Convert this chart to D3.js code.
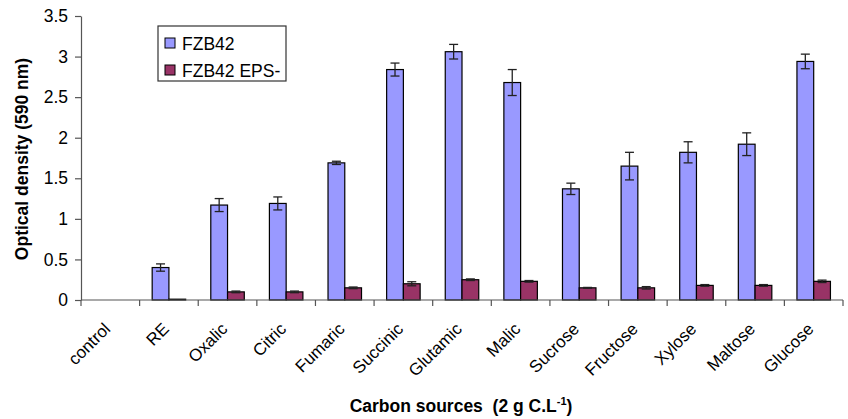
<!DOCTYPE html>
<html>
<head>
<meta charset="utf-8">
<script src="https://cdn.jsdelivr.net/npm/d3@7"></script>
<style>
  html, body { margin: 0; padding: 0; background: #fff; }
  svg { display: block; font-family: "Liberation Sans", Arial, sans-serif; }
</style>
</head>
<body>
<svg id="chart" width="848" height="419"></svg>
<script>
// Carbon sources tested
const categories = ["control", "RE", "Oxalic", "Citric", "Fumaric", "Succinic", "Glutamic",
                    "Malic", "Sucrose", "Fructose", "Xylose", "Maltose", "Glucose"];
const seriesNames = ["FZB42", "FZB42 EPS-"];
// Optical density at 590 nm (mean) and standard deviation
const wildType    = [0, 0.40, 1.17, 1.19, 1.69, 2.84, 3.06, 2.68, 1.37, 1.65, 1.82, 1.92, 2.94];
const wildTypeErr = [0, 0.045, 0.08, 0.08, 0.02, 0.08, 0.09, 0.16, 0.07, 0.17, 0.13, 0.14, 0.09];
const mutant      = [0, 0.01, 0.10, 0.10, 0.15, 0.20, 0.25, 0.23, 0.15, 0.15, 0.18, 0.18, 0.23];
const mutantErr   = [0, 0, 0.01, 0.01, 0.01, 0.025, 0.01, 0.01, 0.005, 0.015, 0.01, 0.01, 0.015];
const yTicks = [0, 0.5, 1, 1.5, 2, 2.5, 3, 3.5];
const colors = ["#9999FF", "#993366"];

const svg = d3.select("#chart");
const plot = { left: 81, right: 843, top: 16, bottom: 300 };

const x0 = d3.scaleBand().domain(categories).range([plot.left, plot.right]).padding(0);
const x1 = d3.scaleBand().domain(seriesNames).range([0, x0.bandwidth()])
  .paddingInner(0).paddingOuter(0.75);
const y = d3.scaleLinear().domain([0, 3.5]).range([plot.bottom, plot.top]);

const rows = categories.map((c, i) => ({
  cat: c,
  vals: [
    { s: seriesNames[0], v: wildType[i], e: wildTypeErr[i], col: colors[0] },
    { s: seriesNames[1], v: mutant[i], e: mutantErr[i], col: colors[1] }
  ]
}));

// Bars
const groups = svg.append("g").selectAll("g").data(rows).join("g")
  .attr("transform", d => `translate(${x0(d.cat)},0)`);

groups.selectAll("rect").data(d => d.vals).join("rect")
  .attr("x", d => x1(d.s))
  .attr("y", d => y(d.v))
  .attr("width", x1.bandwidth())
  .attr("height", d => y(0) - y(d.v))
  .attr("fill", d => d.col)
  .attr("stroke", "#000")
  .attr("stroke-width", 1.2);

// Error bars
const eb = groups.selectAll("g.err").data(d => d.vals.filter(v => v.e > 0)).join("g")
  .attr("class", "err")
  .attr("stroke", "#222")
  .attr("stroke-width", 1.3);
const cx = d => x1(d.s) + x1.bandwidth() / 2;
eb.append("line")
  .attr("x1", cx).attr("x2", cx)
  .attr("y1", d => y(d.v + d.e))
  .attr("y2", d => y(d.v - d.e));
eb.append("line")
  .attr("x1", d => cx(d) - 4.5).attr("x2", d => cx(d) + 4.5)
  .attr("y1", d => y(d.v + d.e)).attr("y2", d => y(d.v + d.e));
eb.append("line")
  .attr("x1", d => cx(d) - 4.5).attr("x2", d => cx(d) + 4.5)
  .attr("y1", d => y(d.v - d.e)).attr("y2", d => y(d.v - d.e));

// Y axis
const yAxis = svg.append("g")
  .attr("transform", `translate(${plot.left},0)`)
  .call(d3.axisLeft(y).tickValues(yTicks).tickSize(6).tickSizeOuter(0).tickPadding(7)
    .tickFormat(d => String(d)));
yAxis.select(".domain").attr("stroke", "#555").attr("stroke-width", 1.2);
yAxis.selectAll(".tick line").attr("stroke", "#555").attr("stroke-width", 1.2);
yAxis.selectAll(".tick text").attr("font-size", 17.5).attr("fill", "#000")
  .attr("font-family", "Liberation Sans, Arial, sans-serif");

// X axis: ticks at category boundaries
const boundaries = categories.map(c => x0(c)).concat([plot.right]);
svg.append("line")
  .attr("x1", plot.left).attr("x2", plot.right).attr("y1", plot.bottom).attr("y2", plot.bottom)
  .attr("stroke", "#555").attr("stroke-width", 1.2);
svg.append("g").selectAll("line").data(boundaries).join("line")
  .attr("x1", d => d).attr("x2", d => d)
  .attr("y1", plot.bottom).attr("y2", plot.bottom + 6)
  .attr("stroke", "#555").attr("stroke-width", 1.2);

// Category labels, rotated
svg.append("g").selectAll("text").data(categories).join("text")
  .attr("transform", c => `translate(${x0(c) + x0.bandwidth() / 2 + 1},${plot.bottom + 30}) rotate(-45)`)
  .attr("text-anchor", "end")
  .attr("font-size", 17)
  .attr("fill", "#000")
  .text(c => c);

// Axis titles
svg.append("text")
  .attr("transform", `translate(28,${(plot.top + plot.bottom) / 2 + 1}) rotate(-90)`)
  .attr("text-anchor", "middle")
  .attr("font-size", 17.5)
  .attr("font-weight", "bold")
  .text("Optical density (590 nm)");

const xt = svg.append("text")
  .attr("x", 461).attr("y", 412)
  .attr("text-anchor", "middle")
  .attr("font-size", 17.5)
  .attr("font-weight", "bold")
  .attr("xml:space", "preserve");
xt.append("tspan").text("Carbon sources  (2 g C.L");
xt.append("tspan").attr("dy", -7).attr("font-size", 11).text("-1");
xt.append("tspan").attr("dy", 7).text(")");

// Legend
const lg = svg.append("g").attr("transform", "translate(158,26)");
lg.append("rect").attr("width", 128).attr("height", 55)
  .attr("fill", "#fff").attr("stroke", "#333").attr("stroke-width", 1.2);
seriesNames.forEach((s, i) => {
  const row = lg.append("g").attr("transform", `translate(7,${12 + i * 27})`);
  row.append("rect").attr("width", 10).attr("height", 10)
    .attr("fill", colors[i]).attr("stroke", "#000").attr("stroke-width", 1);
  row.append("text").attr("x", 17).attr("y", 11.5)
    .attr("font-size", 17.5).attr("fill", "#000").text(s);
});
</script>
</body>
</html>
